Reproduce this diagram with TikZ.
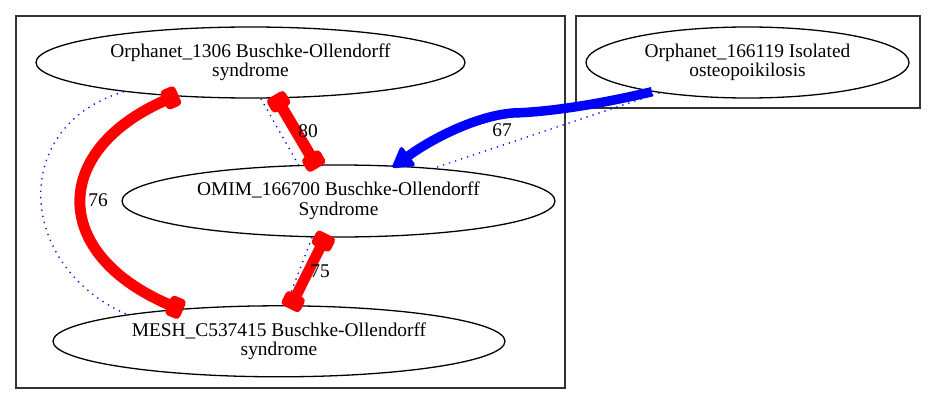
\documentclass[tikz,border=0pt]{standalone}
\usepackage{fontspec}
\setmainfont{Liberation Serif}
\usetikzlibrary{shapes.geometric,arrows.meta}
\begin{document}
\begin{tikzpicture}[x=1pt,y=-1pt,
  ent/.style={draw, ellipse, line width=1.3pt, inner sep=0pt, align=center,
              font=\fontsize{19.4}{19.5}\selectfont},
  clus/.style={draw=black!80, line width=1.3pt},
  lbl/.style={font=\fontsize{19.4}{19.5}\selectfont, inner sep=0pt},
  blob/.tip={Square[length=16pt,width=21pt,line width=8pt,round]},
  headtip/.tip={Triangle[length=22pt,width=25pt,line width=4pt,round]},
  redlink/.style={draw=red, line width=#1, blob-blob, shorten <=-4pt, shorten >=-4pt},
  bluelink/.style={draw=blue, line width=9.5pt, -headtip, shorten >=-3pt},
  dots/.style={draw=blue, line width=1.3pt, dash pattern=on 1.3pt off 5pt}
]
\useasboundingbox (0,0) rectangle (936,404);
\fill[white] (0,0) rectangle (936,404);

% clusters
\draw[clus] (16,16) rectangle (565,388);
\draw[clus] (576,16) rectangle (920,108);

% entities
\node[ent, minimum width=429pt, minimum height=71pt] (o1306) at (250.5,62.5)
  {Orphanet\_1306 Buschke-Ollendorff\\syndrome};
\node[ent, minimum width=433pt, minimum height=72pt] (omim) at (338.5,201)
  {OMIM\_166700 Buschke-Ollendorff\\Syndrome};
\node[ent, minimum width=452pt, minimum height=71pt] (mesh) at (279,341.3)
  {MESH\_C537415 Buschke-Ollendorff\\syndrome};
\node[ent, minimum width=323pt, minimum height=71pt] (o166119) at (747.5,62.5)
  {Orphanet\_166119 Isolated\\osteopoikilosis};

% dotted blue links
\draw[dots] (o1306.-167) .. controls (10,125) and (15,265) .. (mesh.170.2);
\draw[dots] (o1306.-74.3) -- (omim.138.4);
\draw[dots] (omim.-126.2) -- (mesh.79);
\draw[dots] (o166119.-161.7) -- (omim.19.3);

% red links
\draw[redlink=11pt] (o1306.-156.7) .. controls (50,150) and (50,255) .. (mesh.162.7);
\draw[redlink=11.4pt] (o1306.-54.2) -- (omim.122.9);
\draw[redlink=10.7pt] (omim.-110.6) -- (mesh.71.1);

% blue link
\draw[bluelink] (o166119.-163.6) .. controls (600,104) and (550,112) .. (513,113)
  .. controls (475,116) and (430,140) .. (omim.32.6);

% labels
\node[lbl] (l80) at (308,131) {80};
\node[lbl] (l76) at (98,200) {76};
\node[lbl] (l75) at (320,271) {75};
\node[lbl] (l67) at (502,130) {67};
\end{tikzpicture}
\end{document}
